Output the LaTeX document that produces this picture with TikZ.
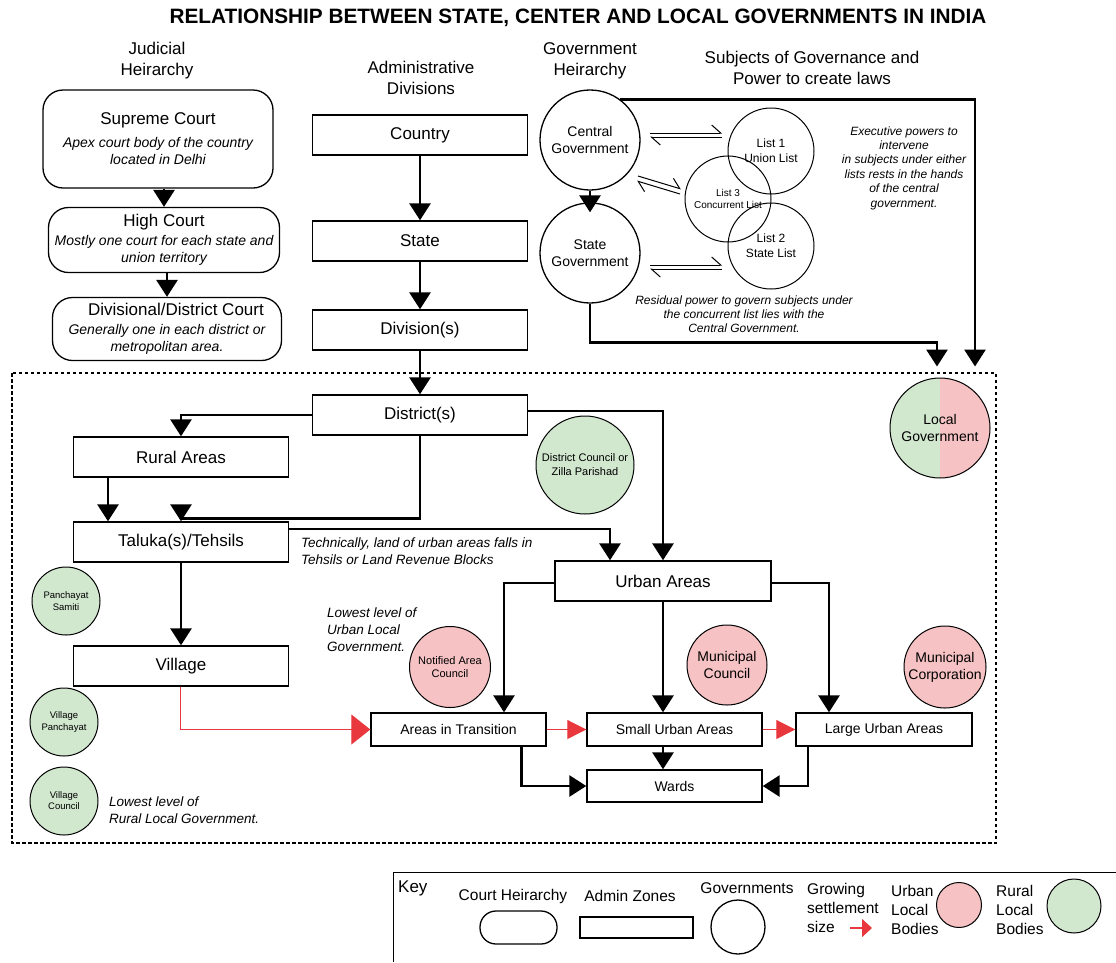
\documentclass[tikz,border=0pt]{standalone}
\usepackage{fontspec}
\setmainfont{Liberation Sans}
\usetikzlibrary{arrows.meta,positioning}

\definecolor{ruralgreen}{HTML}{D1E8CF}
\definecolor{urbanpink}{HTML}{F6C2C3}
\definecolor{growred}{HTML}{E8383D}

\newcommand{\courttitle}[1]{{\upshape\fontsize{17}{20}\selectfont #1}}

\tikzset{
  courtbox/.style={draw, line width=1.3pt, rounded corners=20pt, align=center, inner sep=0pt,
    font=\itshape\fontsize{14}{17}\selectfont},
  adminbox/.style={draw, line width=1.4pt, minimum width=215pt, minimum height=40pt, inner sep=0pt,
    font=\fontsize{17}{20}\selectfont},
  smallbox/.style={draw, line width=1.4pt, minimum width=175pt, minimum height=33pt, inner sep=0pt,
    font=\fontsize{14}{17}\selectfont},
  govcircle/.style={draw, circle, line width=1.3pt, minimum size=100pt, inner sep=0pt, align=center,
    font=\fontsize{14}{17}\selectfont},
  listcircle/.style={draw, circle, line width=1pt, minimum size=86pt, inner sep=0pt, align=center,
    font=\fontsize{12}{15}\selectfont},
  ruralbody/.style={draw, circle, fill=ruralgreen, line width=1pt, inner sep=0pt, align=center},
  urbanbody/.style={draw, circle, fill=urbanpink, line width=1pt, inner sep=0pt, align=center},
  arr/.style={line width=2.9pt, -{Triangle[length=17pt,width=21pt]}},
  redarr/.style={growred, line width=1pt, -{Triangle[length=19pt,width=19pt]}},
  harp/.style={line width=1pt, -{Straight Barb[left,length=9pt,width=16pt]}},
  heading/.style={font=\fontsize{17}{21}\selectfont, align=center, inner sep=0pt},
  note/.style={font=\itshape\fontsize{12}{14.4}\selectfont, align=center, inner sep=0pt},
  sidenote/.style={font=\itshape\fontsize{13.5}{17}\selectfont, align=left, inner sep=0pt, anchor=west},
  keytext/.style={font=\fontsize{15.5}{19}\selectfont, align=left, inner sep=0pt}
}

\begin{document}
\begin{tikzpicture}[x=1pt, y=-1pt]
  \useasboundingbox (0,0) rectangle (1116,962);

  \node[font=\bfseries\fontsize{20.8}{24}\selectfont] (title) at (578,18)
    {RELATIONSHIP BETWEEN STATE, CENTER AND LOCAL GOVERNMENTS IN INDIA};

  % column headings
  \node[heading] (judh) at (157,61) {Judicial\\Heirarchy};
  \node[heading] (admh) at (421,78) {Administrative\\Divisions};
  \node[heading] (govh) at (590,61) {Government\\Heirarchy};
  \node[heading] (subh) at (812,68) {Subjects of Governance and\\Power to create laws};

  % judicial hierarchy
  \node[courtbox, minimum width=230pt, minimum height=98pt] (sup) at (158,139)
    {\courttitle{Supreme Court}\\[6pt]Apex court body of the country\\located in Delhi};
  \node[courtbox, minimum width=231pt, minimum height=65pt] (high) at (164,240)
    {\courttitle{High Court}\\[2pt]Mostly one court for each state and\\union territory};
  \node[courtbox, minimum width=229pt, minimum height=63pt] (divc) at (167,329)
    {\courttitle{\hspace*{18pt}Divisional/District Court}\\[2pt]Generally one in each district or\\metropolitan area.};
  \draw[arr] (sup.south -| high.north) -- (high.north);
  \draw[arr] (high.south -| divc.north) -- (divc.north);

  % administrative divisions
  \node[adminbox] (country) at (420,135) {Country};
  \node[adminbox] (state) at (420,241) {State};
  \node[adminbox] (division) at (420,330) {Division(s)};
  \node[adminbox] (district) at (420,415) {District(s)};
  \node[adminbox] (rural) at (181,457) {Rural Areas};
  \node[adminbox] (taluka) at (181,542) {Taluka(s)/Tehsils};
  \node[adminbox] (village) at (181,666) {Village};
  \node[adminbox, minimum width=216pt] (urban) at (663,581) {Urban Areas};
  \node[smallbox] (transit) at (458.5,729.5) {Areas in Transition};
  \node[smallbox] (small) at (674.5,729.5) {Small Urban Areas};
  \node[smallbox, minimum width=176pt] (large) at (884,729.5) {Large Urban Areas};
  \node[smallbox, minimum height=32pt] (wards) at (674.5,786) {Wards};

  \draw[arr] (country.south) -- (state.north);
  \draw[arr] (state.south) -- (division.north);
  \draw[arr] (division.south) -- (district.north);
  \draw[arr] (district.west) -| (rural.north);
  \draw[arr] (district.south) -- ++(0,83) -| (taluka.north);
  \draw[arr] ([xshift=-73pt]rural.south) -- ([xshift=-73pt]taluka.north);
  \draw[arr] ([yshift=13pt]taluka.east) -| ([xshift=-53pt]urban.north);
  \draw[arr] ([yshift=4pt]district.east) -| (urban.north);
  \draw[arr] (taluka.south) -- (village.north);
  \draw[arr] ([yshift=-2pt]urban.west) -| ([xshift=45.5pt]transit.north);
  \draw[arr] (urban.south) -- (urban.south |- small.north);
  \draw[arr] ([yshift=-2pt]urban.east) -| ([xshift=-55pt]large.north);
  \draw[arr] (small.south -| urban.south) -- (wards.north -| urban.south);
  \draw[arr] ([xshift=63pt]transit.south) |- (wards.west);
  \draw[arr] ([xshift=-76pt]large.south) |- (wards.east);

  % growing settlement size
  \draw[redarr, -{Triangle[length=19pt,width=30pt]}] ([xshift=-1pt]village.south) |- (transit.west);
  \draw[redarr] (transit.east) -- (small.west);
  \draw[redarr] (small.east) -- (large.west);

  % government hierarchy and lists
  \node[govcircle] (cg) at (590,140) {Central\\Government};
  \node[govcircle] (sg) at (590,253) {State\\Government};
  \node[listcircle] (l1) at (771,151) {List 1\\Union List};
  \node[listcircle, font=\fontsize{10}{11.5}\selectfont] (l3) at (728,199) {List 3\\Concurrent List};
  \node[listcircle] (l2) at (771,246) {List 2\\State List};
  \draw[arr] (cg.south) -- ([yshift=-10pt]sg.north);

  \coordinate (h1a) at (650,133);
  \coordinate (h1b) at (722,133);
  \coordinate (h1c) at (722,137);
  \coordinate (h1d) at (650,137);
  \draw[harp] (h1a) -- (h1b);
  \draw[harp] (h1c) -- (h1d);
  \coordinate (h2a) at (638,176);
  \coordinate (h2b) at (681,189);
  \coordinate (h2c) at (680,194);
  \coordinate (h2d) at (637,181);
  \draw[harp] (h2a) -- (h2b);
  \draw[harp] (h2c) -- (h2d);
  \coordinate (h3a) at (650,265);
  \coordinate (h3b) at (722,265);
  \coordinate (h3c) at (722,269);
  \coordinate (h3d) at (650,269);
  \draw[harp] (h3a) -- (h3b);
  \draw[harp] (h3c) -- (h3d);

  \node[note] (execnote) at (904,168) {Executive powers to\\intervene\\in subjects under either\\lists rests in the hands\\of the central\\government.};
  \node[note, font=\itshape\fontsize{12}{14}\selectfont] (resnote) at (744,314) {Residual power to govern subjects under\\the concurrent list lies with the\\Central Government.};

  % local government
  \draw[line width=2pt, dash pattern=on 3.5pt off 2.5pt] (12,373) rectangle (996,843);
  \node[draw, circle, line width=1pt, minimum size=100pt, inner sep=0pt, align=center,
    font=\fontsize{14}{17}\selectfont,
    path picture={
      \fill[ruralgreen] (path picture bounding box.south west) rectangle (path picture bounding box.north);
      \fill[urbanpink] (path picture bounding box.north) rectangle (path picture bounding box.south east);
    }] (localgov) at (940,428) {Local\\Government};
  \draw[arr] (cg.53) -| ([xshift=35pt,yshift=11pt]localgov.north);
  \draw[arr] (sg.south) -- ++(0,39) -| ([xshift=-3pt,yshift=11pt]localgov.north);

  % local bodies
  \node[ruralbody, minimum size=98pt, font=\fontsize{11}{14}\selectfont] (zilla) at (585,465) {District Council or\\Zilla Parishad};
  \node[ruralbody, minimum size=68pt, font=\fontsize{9.5}{11.5}\selectfont] (samiti) at (66,601) {Panchayat\\Samiti};
  \node[ruralbody, minimum size=68pt, font=\fontsize{9.5}{11.5}\selectfont] (vpanch) at (64,722) {Village\\Panchayat};
  \node[ruralbody, minimum size=68pt, font=\fontsize{9.5}{11}\selectfont] (vcouncil) at (64,801) {Village\\Council};
  \node[urbanbody, minimum size=81pt, font=\fontsize{11}{13}\selectfont] (notified) at (450,667) {Notified Area\\Council};
  \node[urbanbody, minimum size=80pt, font=\fontsize{14}{17}\selectfont] (mcouncil) at (727,665) {Municipal\\Council};
  \node[urbanbody, minimum size=82pt, font=\fontsize{14}{17}\selectfont] (mcorp) at (945,667) {Municipal\\Corporation};

  \node[sidenote] (technote) at (301,551) {Technically, land of urban areas falls in\\Tehsils or Land Revenue Blocks};
  \node[sidenote] (urbannote) at (327,630) {Lowest level of\\Urban Local\\Government.};
  \node[sidenote] (ruralnote) at (109,810.5) {Lowest level of\\Rural Local Government.};

  % key
  \draw[line width=1pt] (1116,872) -| (393,962);
  \node[font=\fontsize{17}{20}\selectfont, anchor=west, inner sep=0pt] (keyt) at (398,888) {Key};
  \node[keytext] (keycourt) at (513,896) {Court Heirarchy};
  \node[draw, line width=1.3pt, rounded corners=16pt, minimum width=77pt, minimum height=33pt] (keycourtshape) at (518.5,927.5) {};
  \node[keytext] (keyadmin) at (630,896) {Admin Zones};
  \node[draw, line width=1.3pt, minimum width=113pt, minimum height=21pt] (keyadminshape) at (636.5,927.5) {};
  \node[keytext] (keygov) at (747,888) {Governments};
  \node[draw, circle, line width=1.3pt, minimum size=54pt] (keygovshape) at (738,927) {};
  \node[keytext, anchor=west] (keygrow) at (807,908) {Growing\\settlement\\size};
  \coordinate (keya) at (850,928);
  \coordinate (keyb) at (872,928);
  \draw[redarr, line width=1.5pt, -{Triangle[length=10pt,width=18pt]}] (keya) -- (keyb);
  \node[keytext, anchor=west] (keyurban) at (891,909.5) {Urban\\Local\\Bodies};
  \node[urbanbody, minimum size=45pt] (keyurbanshape) at (959,905) {};
  \node[keytext, anchor=west] (keyrural) at (996,909.5) {Rural\\Local\\Bodies};
  \node[ruralbody, minimum size=54pt] (keyruralshape) at (1074,906) {};
\end{tikzpicture}
\end{document}
